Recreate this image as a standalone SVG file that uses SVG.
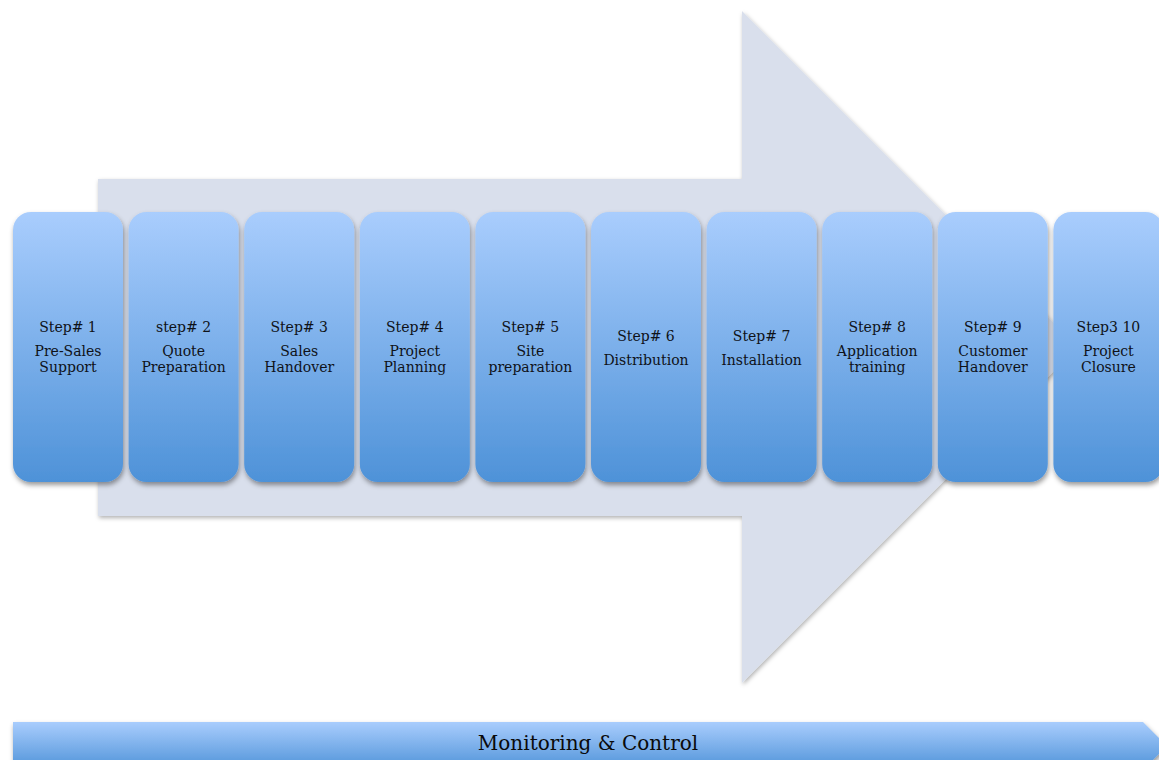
<svg xmlns="http://www.w3.org/2000/svg" width="1159" height="760" viewBox="0 0 1159 760">
  <defs>
    <linearGradient id="blueFill" x1="0" y1="0" x2="0" y2="1">
      <stop offset="0" stop-color="#a9cdfd"/>
      <stop offset="1" stop-color="#4e92d8"/>
    </linearGradient>
    <filter id="shadow" x="-20%" y="-20%" width="140%" height="140%">
      <feDropShadow dx="1" dy="3" stdDeviation="2.5" flood-color="#000" flood-opacity="0.4"/>
    </filter>
    <filter id="softShadow" x="-10%" y="-10%" width="120%" height="120%">
      <feDropShadow dx="1" dy="2" stdDeviation="2" flood-color="#000" flood-opacity="0.3"/>
    </filter>
  </defs>
  <style>
    .step { fill: url(#blueFill); filter: url(#shadow); }
    .label { font-family: "DejaVu Serif", "Liberation Serif", serif; font-size: 14px; fill: #0f1218; text-anchor: middle; }
    .bar-label { font-family: "DejaVu Serif", "Liberation Serif", serif; font-size: 20px; fill: #0a0a0a; text-anchor: middle; }
  </style>

  <rect width="1159" height="760" fill="#ffffff"/>

  <!-- large background block arrow -->
  <g id="flow-arrow">
    <path d="M98 179 H742 V11 L1078 347 L742 683 V516 H98 Z" fill="#d9dfec" filter="url(#softShadow)"/>
  </g>

  <!-- process steps -->
  <g id="step-1">
    <rect class="step" x="13" y="212" width="110" height="270" rx="18"/>
    <text class="label" x="68" y="332">Step# 1</text>
    <text class="label" x="68" y="356">Pre-Sales</text>
    <text class="label" x="68" y="372">Support</text>
  </g>
  <g id="step-2">
    <rect class="step" x="128.6" y="212" width="110" height="270" rx="18"/>
    <text class="label" x="183.6" y="332">step# 2</text>
    <text class="label" x="183.6" y="356">Quote</text>
    <text class="label" x="183.6" y="372">Preparation</text>
  </g>
  <g id="step-3">
    <rect class="step" x="244.2" y="212" width="110" height="270" rx="18"/>
    <text class="label" x="299.2" y="332">Step# 3</text>
    <text class="label" x="299.2" y="356">Sales</text>
    <text class="label" x="299.2" y="372">Handover</text>
  </g>
  <g id="step-4">
    <rect class="step" x="359.8" y="212" width="110" height="270" rx="18"/>
    <text class="label" x="414.8" y="332">Step# 4</text>
    <text class="label" x="414.8" y="356">Project</text>
    <text class="label" x="414.8" y="372">Planning</text>
  </g>
  <g id="step-5">
    <rect class="step" x="475.4" y="212" width="110" height="270" rx="18"/>
    <text class="label" x="530.4" y="332">Step# 5</text>
    <text class="label" x="530.4" y="356">Site</text>
    <text class="label" x="530.4" y="372">preparation</text>
  </g>
  <g id="step-6">
    <rect class="step" x="591" y="212" width="110" height="270" rx="18"/>
    <text class="label" x="646" y="341">Step# 6</text>
    <text class="label" x="646" y="365">Distribution</text>
  </g>
  <g id="step-7">
    <rect class="step" x="706.6" y="212" width="110" height="270" rx="18"/>
    <text class="label" x="761.6" y="341">Step# 7</text>
    <text class="label" x="761.6" y="365">Installation</text>
  </g>
  <g id="step-8">
    <rect class="step" x="822.2" y="212" width="110" height="270" rx="18"/>
    <text class="label" x="877.2" y="332">Step# 8</text>
    <text class="label" x="877.2" y="356">Application</text>
    <text class="label" x="877.2" y="372">training</text>
  </g>
  <g id="step-9">
    <rect class="step" x="937.8" y="212" width="110" height="270" rx="18"/>
    <text class="label" x="992.8" y="332">Step# 9</text>
    <text class="label" x="992.8" y="356">Customer</text>
    <text class="label" x="992.8" y="372">Handover</text>
  </g>
  <g id="step-10">
    <rect class="step" x="1053.4" y="212" width="110" height="270" rx="18"/>
    <text class="label" x="1108.4" y="332">Step3 10</text>
    <text class="label" x="1108.4" y="356">Project</text>
    <text class="label" x="1108.4" y="372">Closure</text>
  </g>

  <!-- no connectors between steps; the background arrow carries the flow -->
  <g id="connectors"/>

  <!-- monitoring band along the bottom -->
  <g id="monitoring">
    <path class="step" d="M13 722 H1143 L1167 746 L1143 770 H13 Z"/>
    <text class="bar-label" x="588" y="750">Monitoring &amp; Control</text>
  </g>
</svg>
